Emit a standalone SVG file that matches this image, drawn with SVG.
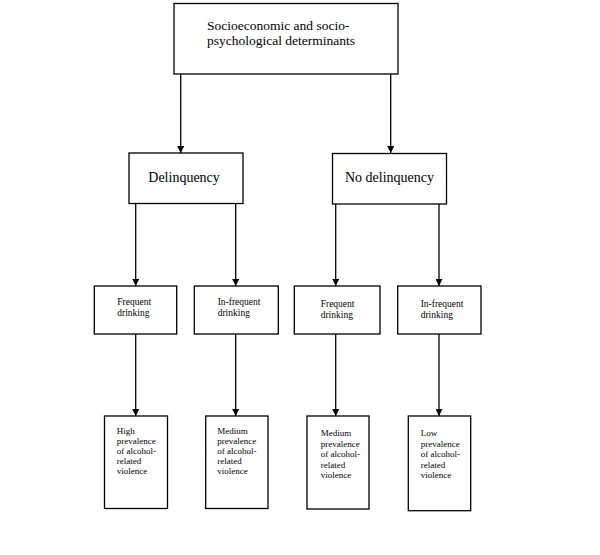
<svg xmlns="http://www.w3.org/2000/svg" width="600" height="555" viewBox="0 0 600 555">
<defs>
<style>
.box{fill:#fff;stroke:#000;stroke-width:1.3}
.t{font-family:"Liberation Serif","Times New Roman",serif;fill:#000}
.big{font-size:13.5px}
.mid{font-size:14px}
.sm{font-size:9.5px}
.xs{font-size:9px}
.ln{stroke:#000;stroke-width:1.3;fill:none;marker-end:url(#ah)}
</style>
<marker id="ah" markerWidth="7" markerHeight="7" refX="7" refY="3.5" orient="auto" markerUnits="userSpaceOnUse" viewBox="0 0 7 7">
<path d="M0,0 L7,3.5 L0,7 Z" fill="#000"/>
</marker>
</defs>
<rect width="600" height="555" fill="#fff"/>
<g id="connectors">
<line class="ln" x1="180.7" y1="74" x2="180.7" y2="153"/>
<line class="ln" x1="390.7" y1="74" x2="390.7" y2="153"/>
<line class="ln" x1="135.7" y1="203.5" x2="135.7" y2="286"/>
<line class="ln" x1="235.7" y1="203.5" x2="235.7" y2="286"/>
<line class="ln" x1="335.7" y1="204" x2="335.7" y2="286"/>
<line class="ln" x1="439" y1="204" x2="439" y2="286"/>
<line class="ln" x1="135.7" y1="334" x2="135.7" y2="416"/>
<line class="ln" x1="235.7" y1="334" x2="235.7" y2="416"/>
<line class="ln" x1="335.7" y1="334" x2="335.7" y2="416"/>
<line class="ln" x1="439" y1="334" x2="439" y2="416"/>
</g>
<g id="root">
<rect class="box" x="174" y="3.5" width="224" height="70.5"/>
<text class="t big" x="207" y="30">Socioeconomic and socio-</text>
<text class="t big" x="207" y="45">psychological determinants</text>
</g>
<g id="delinquency">
<rect class="box" x="129" y="153" width="114" height="50.5"/>
<text class="t mid" x="148.3" y="182">Delinquency</text>
</g>
<g id="no-delinquency">
<rect class="box" x="332.5" y="153.5" width="114" height="50.5"/>
<text class="t mid" x="345" y="182">No delinquency</text>
</g>
<g id="freq1">
<rect class="box" x="94.3" y="286" width="82.4" height="48"/>
<text class="t sm" x="117.3" y="305">Frequent</text>
<text class="t sm" x="117.3" y="316">drinking</text>
</g>
<g id="infreq1">
<rect class="box" x="194.3" y="286" width="84" height="48"/>
<text class="t sm" x="217.7" y="305">In-frequent</text>
<text class="t sm" x="217.7" y="316">drinking</text>
</g>
<g id="freq2">
<rect class="box" x="294.3" y="286" width="85.7" height="48"/>
<text class="t sm" x="320.7" y="306.7">Frequent</text>
<text class="t sm" x="320.7" y="317.7">drinking</text>
</g>
<g id="infreq2">
<rect class="box" x="397.7" y="286" width="83.3" height="48"/>
<text class="t sm" x="420.7" y="306.7">In-frequent</text>
<text class="t sm" x="420.7" y="317.7">drinking</text>
</g>
<g id="high">
<rect class="box" x="104.5" y="416" width="63" height="92.5"/>
<text class="t xs" x="116.7" y="434.3">High</text>
<text class="t xs" x="116.7" y="444.3">prevalence</text>
<text class="t xs" x="116.7" y="454.3">of alcohol-</text>
<text class="t xs" x="116.7" y="464.3">related</text>
<text class="t xs" x="116.7" y="474.3">violence</text>
</g>
<g id="medium1">
<rect class="box" x="205.7" y="416" width="62.3" height="92.5"/>
<text class="t xs" x="217.3" y="433.5">Medium</text>
<text class="t xs" x="217.3" y="443.5">prevalence</text>
<text class="t xs" x="217.3" y="453.5">of alcohol-</text>
<text class="t xs" x="217.3" y="463.5">related</text>
<text class="t xs" x="217.3" y="473.5">violence</text>
</g>
<g id="medium2">
<rect class="box" x="307" y="416" width="62" height="93"/>
<text class="t xs" x="320.7" y="436">Medium</text>
<text class="t xs" x="320.7" y="446.5">prevalence</text>
<text class="t xs" x="320.7" y="457">of alcohol-</text>
<text class="t xs" x="320.7" y="467.5">related</text>
<text class="t xs" x="320.7" y="478">violence</text>
</g>
<g id="low">
<rect class="box" x="408.3" y="416" width="62.4" height="94.7"/>
<text class="t xs" x="420.7" y="436">Low</text>
<text class="t xs" x="420.7" y="446.5">prevalence</text>
<text class="t xs" x="420.7" y="457">of alcohol-</text>
<text class="t xs" x="420.7" y="467.5">related</text>
<text class="t xs" x="420.7" y="478">violence</text>
</g>
</svg>
